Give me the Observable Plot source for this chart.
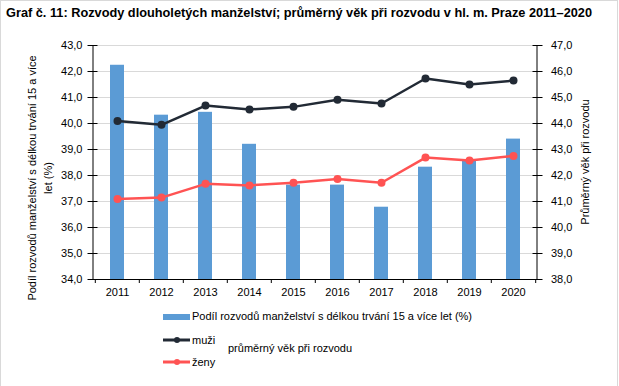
<!DOCTYPE html>
<html><head><meta charset="utf-8">
<script src="https://cdn.jsdelivr.net/npm/d3@7"></script>
<script src="https://cdn.jsdelivr.net/npm/@observablehq/plot@0.6"></script>
<style>
body{margin:0;background:#fff;}
#wrap{position:relative;width:619px;height:386px;overflow:hidden;font-family:"Liberation Sans",Arial,sans-serif;color:#000;}
#border{position:absolute;left:0;top:0;width:618px;height:390px;border:1px solid #d9d9d9;box-sizing:border-box;}
#title{position:absolute;left:6px;top:5px;font-weight:bold;white-space:nowrap;font-family:"Liberation Sans Narrow","Liberation Sans",sans-serif;font-size:14px;line-height:16px;}
#chart{position:absolute;left:0;top:30px;}
.rot{position:absolute;transform:rotate(-90deg);text-align:center;font-size:11px;line-height:16px;white-space:nowrap;}
.leg{position:absolute;font-size:11px;line-height:14px;white-space:nowrap;}
.sw{position:absolute;}
</style></head>
<body>
<div id="wrap">
  <div id="border"></div>
  <div id="title">Graf č. 11: Rozvody dlouholetých manželství; průměrný věk při rozvodu v hl. m. Praze 2011–2020</div>
  <div id="chart"></div>
  <div class="rot" style="left:-110px;top:162px;width:300px;height:32px;">Podíl rozvodů manželství s délkou trvání 15 a více<br>let (%)</div>
  <div class="rot" style="left:485px;top:154px;width:200px;height:16px;">Průměrný věk při rozvodu</div>
  <div id="legend"></div>
</div>
<script>
const years = ["2011","2012","2013","2014","2015","2016","2017","2018","2019","2020"];
const podil = [42.24, 40.32, 40.43, 39.20, 37.63, 37.63, 36.78, 38.32, 38.60, 39.40];
const muzi  = [44.10, 43.95, 44.69, 44.54, 44.64, 44.91, 44.77, 45.73, 45.50, 45.65];
const zeny  = [41.10, 41.15, 41.68, 41.62, 41.72, 41.87, 41.72, 42.69, 42.58, 42.75];
const leftTicks  = [34, 35, 36, 37, 38, 39, 40, 41, 42, 43];
const rightTicks = [38, 39, 40, 41, 42, 43, 44, 45, 46, 47];
const seriesNames = ["Podíl rozvodů manželství s délkou trvání 15 a více let (%)", "muži", "ženy"];
const legendGroup = "průměrný věk při rozvodu";
const colors = {bar: "#5b9bd5", muzi: "#222a35", zeny: "#ff5353"};

const OFF = rightTicks[0] - leftTicks[0];
const fmt = d => d.toFixed(1).replace(".", ",");
const table = years.map((y, i) => ({year: y, podil: podil[i], muzi: muzi[i], zeny: zeny[i]}));

const W = 619, H = 275, ML = 92.5, MR = 82.5, MT = 15, MB = 26;
const step = (W - ML - MR) / years.length;

const chart = Plot.plot({
  width: W, height: H,
  marginLeft: ML, marginRight: MR, marginTop: MT, marginBottom: MB,
  style: {fontSize: "11px", fontFamily: "Liberation Sans, Arial, sans-serif", color: "#000", background: "transparent"},
  x: {type: "band", domain: years, paddingInner: 0.69, paddingOuter: 0.345, label: null},
  y: {domain: [leftTicks[0], leftTicks[leftTicks.length - 1]], label: null},
  marks: [
    Plot.gridY(leftTicks, {stroke: "#d9d9d9", strokeOpacity: 1, strokeWidth: 1}),
    Plot.barY(table, {x: "year", y1: leftTicks[0], y2: "podil", fill: colors.bar}),
    Plot.line(table, {x: "year", y: d => d.muzi - OFF, stroke: colors.muzi, strokeWidth: 2.5}),
    Plot.dot(table, {x: "year", y: d => d.muzi - OFF, fill: colors.muzi, r: 4}),
    Plot.line(table, {x: "year", y: d => d.zeny - OFF, stroke: colors.zeny, strokeWidth: 2.5}),
    Plot.dot(table, {x: "year", y: d => d.zeny - OFF, fill: colors.zeny, r: 4}),
    Plot.frame({anchor: "left", stroke: "#000"}),
    Plot.frame({anchor: "right", stroke: "#000"}),
    Plot.frame({anchor: "bottom", stroke: "#000"}),
    Plot.axisY(leftTicks, {anchor: "left", tickSize: 10, dx: 5, tickPadding: 5.5, tickFormat: fmt, label: null}),
    Plot.axisY(rightTicks.map(v => v - OFF), {anchor: "right", tickSize: 10, dx: -5, tickPadding: 9, tickFormat: d => fmt(d + OFF), label: null}),
    Plot.axisX({anchor: "bottom", tickSize: 0, tickPadding: 9, label: null}),
    Plot.axisX(years, {anchor: "bottom", tickSize: 4, tickFormat: () => "", dx: -step / 2, label: null}),
    Plot.axisX([years[years.length - 1]], {anchor: "bottom", tickSize: 4, tickFormat: () => "", dx: step / 2, label: null})
  ]
});
document.getElementById("chart").appendChild(chart);

// legend
const leg = document.getElementById("legend");
leg.innerHTML = `
  <svg class="sw" style="left:163px;top:310px" width="28" height="14"><rect x="0" y="4" width="27" height="6" fill="${colors.bar}"/></svg>
  <div class="leg" style="left:192px;top:309px">${seriesNames[0]}</div>
  <svg class="sw" style="left:163px;top:333px" width="28" height="14"><line x1="0" x2="27" y1="7" y2="7" stroke="${colors.muzi}" stroke-width="3"/><circle cx="14" cy="7" r="3" fill="${colors.muzi}"/></svg>
  <div class="leg" style="left:192px;top:333px">${seriesNames[1]}</div>
  <svg class="sw" style="left:163px;top:355px" width="28" height="14"><line x1="0" x2="27" y1="7" y2="7" stroke="${colors.zeny}" stroke-width="3"/><circle cx="14" cy="7" r="3" fill="${colors.zeny}"/></svg>
  <div class="leg" style="left:192px;top:355px">${seriesNames[2]}</div>
  <div class="leg" style="left:228px;top:341px">${legendGroup}</div>
`;

// fit title width
const t = document.getElementById("title");
const target = 586;
const w = t.getBoundingClientRect().width;
t.style.fontSize = (14 * target / w).toFixed(2) + "px";
</script>
</body></html>
